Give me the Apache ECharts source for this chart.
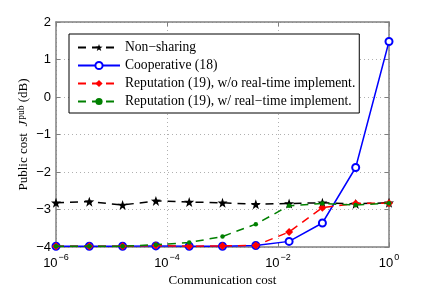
<!DOCTYPE html>
<html>
<head>
<meta charset="utf-8">
<script src="https://cdn.jsdelivr.net/npm/echarts@6/dist/echarts.min.js"></script>
<style>html,body{margin:0;padding:0;background:#fff}#c{width:429px;height:292px}</style>
</head>
<body>
<div id="c"></div>
<script>
const exponents = [-6, -5.4, -4.8, -4.2, -3.6, -3.0, -2.4, -1.8, -1.2, -0.6, 0];
const nonSharing = [-2.82, -2.79, -2.88, -2.77, -2.80, -2.82, -2.86, -2.84, -2.82, -2.85, -2.82];
const cooperative = [-3.98, -3.98, -3.98, -3.97, -3.98, -3.98, -3.96, -3.85, -3.36, -1.88, 1.48];
const repNoRT = [-3.98, -3.98, -3.98, -3.96, -3.98, -3.97, -3.96, -3.60, -2.95, -2.84, -2.83];
const repRT = [-3.98, -3.98, -3.98, -3.94, -3.88, -3.72, -3.39, -2.90, -2.84, -2.88, -2.83];
const seriesNames = ['Non\u2212sharing', 'Cooperative (18)', 'Reputation (19), w/o real-time implement.', 'Reputation (19), w/ real\u2212time implement.'];
const yTicks = [-4, -3, -2, -1, 0, 1, 2];

const xs = exponents.map(e => Math.pow(10, e));
const pts = arr => arr.map((v, i) => [xs[i], v]);

const chart = echarts.init(document.getElementById('c'), null, {renderer: 'canvas'});
const serif = 'Liberation Serif';
const sans = 'Liberation Sans';
const frameLine = {show: true, onZero: false, lineStyle: {color: '#808080', width: 1.5}};
const tick = {show: true, inside: true, length: 4, lineStyle: {color: '#808080'}};
const grid = {show: true, lineStyle: {color: '#b0b0b0', type: [1, 3], width: 1}};
chart.setOption({
  animation: false,
  backgroundColor: '#fff',
  grid: {left: 56, right: 40, top: 22, bottom: 42, containLabel: false},
  legend: {
    orient: 'vertical', left: 69, top: 34,
    backgroundColor: '#fff', borderColor: '#000', borderWidth: 1,
    padding: [6, 4, 4, 8], itemGap: 3, itemWidth: 42, itemHeight: 9,
    textStyle: {fontFamily: serif, fontSize: 13.6, color: '#000', lineHeight: 15},
    data: seriesNames
  },
  xAxis: [{
    type: 'log', logBase: 10, min: 1e-6, max: 1, interval: 2,
    name: 'Communication cost', nameLocation: 'middle', nameGap: 27, nameMoveOverlap: false,
    nameTextStyle: {fontFamily: serif, fontSize: 13, color: '#000'},
    axisLine: frameLine, axisTick: tick, minorTick: {show: false},
    splitLine: grid,
    axisLabel: {
      margin: 6,
      formatter: function (v) {
        const e = Math.round(Math.log10(v));
        return '{b|10}{s|' + (e < 0 ? '\u2212' + (-e) : e) + '}';
      },
      rich: {
        b: {fontFamily: sans, fontSize: 13, color: '#000', verticalAlign: 'bottom'},
        s: {fontFamily: sans, fontSize: 9, color: '#000', verticalAlign: 'top', padding: [0, 0, 8, 1]}
      }
    }
  }, {
    type: 'log', logBase: 10, min: 1e-6, max: 1, interval: 2, position: 'top',
    axisLine: frameLine, axisTick: tick, axisLabel: {show: false}, splitLine: {show: false}
  }],
  yAxis: [{
    type: 'value', min: -4, max: 2, interval: 1,
    name: '{nm|Public cost  }{ji|J}{sp|pub}{nm| (dB)}', nameLocation: 'middle', nameGap: 24, nameRotate: 90,
    nameMoveOverlap: false,
    nameTextStyle: {
      rich: {
        nm: {fontFamily: serif, fontSize: 13, color: '#000'},
        ji: {fontFamily: serif, fontSize: 13, fontStyle: 'italic', color: '#000'},
        sp: {fontFamily: serif, fontSize: 9.5, color: '#000', verticalAlign: 'top', padding: [0, 0, 6, 1]}
      }
    },
    axisLine: frameLine, axisTick: tick, splitLine: grid,
    axisLabel: {
      margin: 5, fontFamily: sans, fontSize: 13, color: '#000',
      formatter: v => (v < 0 ? '\u2212' + (-v) : String(v))
    }
  }, {
    type: 'value', min: -4, max: 2, interval: 1, position: 'right',
    axisLine: frameLine, axisTick: tick, axisLabel: {show: false}, splitLine: {show: false}
  }],
  series: [
    {
      name: seriesNames[0], type: 'line', data: pts(nonSharing), z: 2,
      symbol: 'path://M0,-10 L2.35,-3.24 L9.51,-3.09 L3.8,1.24 L5.88,8.09 L0,4 L-5.88,8.09 L-3.8,1.24 L-9.51,-3.09 L-2.35,-3.24 Z',
      symbolSize: 10,
      itemStyle: {color: '#000'},
      lineStyle: {color: '#000', width: 1.5, type: [8, 6]}
    },
    {
      name: seriesNames[1], type: 'line', data: pts(cooperative), z: 3,
      symbol: 'emptyCircle', symbolSize: 7,
      itemStyle: {color: '#0000ff', borderWidth: 1.5},
      lineStyle: {color: '#0000ff', width: 1.5}
    },
    {
      name: seriesNames[2], type: 'line', data: pts(repNoRT), z: 4,
      symbol: 'diamond', symbolSize: 8,
      itemStyle: {color: '#ff0000'},
      lineStyle: {color: '#ff0000', width: 1.5, type: [8, 6]}
    },
    {
      name: seriesNames[3], type: 'line', data: pts(repRT), z: 5,
      symbol: 'circle', symbolSize: 4.5,
      itemStyle: {color: '#008000'},
      lineStyle: {color: '#008000', width: 1.5, type: [8, 6]}
    }
  ]
});
</script>
</body>
</html>
